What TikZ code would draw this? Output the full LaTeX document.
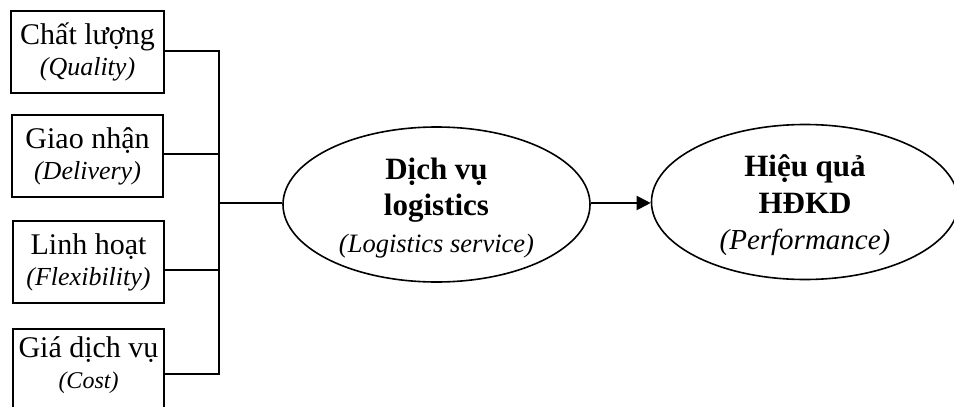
\documentclass[tikz,border=0pt]{standalone}
\usepackage{fontspec}
\setmainfont{Liberation Serif}
\usetikzlibrary{arrows.meta,shapes.geometric}
\begin{document}
\begin{tikzpicture}[x=1pt,y=-1pt,
  box/.style={draw,line width=1.6pt,rectangle,inner sep=0pt,minimum height=82pt,align=center,font=\fontsize{30}{31}\selectfont},
  oval/.style={draw,line width=1.6pt,ellipse,inner sep=0pt,minimum width=307pt,minimum height=155pt},
  ovaltext/.style={align=center,inner sep=0pt,font=\fontsize{31}{36.5}\selectfont\bfseries},
  conn/.style={line width=2pt},
]
\useasboundingbox (0,0) rectangle (954,407);
\newcommand{\subtxt}[2][26]{{\fontsize{#1}{31}\selectfont\itshape #2}}
\node[box,minimum width=153pt] (b1) at (87.5,52) {Chất lượng\\\subtxt{(Quality)}};
\node[box,minimum width=151pt] (b2) at (87.5,156) {Giao nhận\\\subtxt{(Delivery)}};
\node[box,minimum width=151pt] (b3) at (88.5,262) {Linh hoạt\\\subtxt{(Flexibility)}};
\node[box,minimum width=151pt] (b4) at (88.5,370) {};
\node[align=center,inner sep=0pt,font=\fontsize{30}{31}\selectfont] (t4) at ([yshift=5pt]b4.center) {Giá dịch vụ\\\subtxt[24]{(Cost)}};
\node[oval] (e1) at (436.5,204.5) {};
\node[ovaltext] (t1) at ([yshift=-3.5pt]e1.center) {Dịch vụ\\logistics\\{\mdseries\itshape\fontsize{26.5}{36.5}\selectfont (Logistics service)}};
\node[oval] (e2) at (805,202) {};
\node[ovaltext] (t2) at ([yshift=-3.5pt]e2.center) {Hiệu quả\\HĐKD\\{\mdseries\itshape\fontsize{29}{36.5}\selectfont (Performance)}};
\coordinate (j) at (219,203);
\draw[conn] ([yshift=1.3pt]b1.east) -| (j);
\draw[conn] ([yshift=2pt]b2.east) -| (j);
\draw[conn] ([yshift=-8pt]b3.east) -| (j);
\draw[conn] ([yshift=-4pt]b4.east) -| (j);
\draw[conn] (j) -- (j -| e1.west);
\draw[conn,-{Triangle[length=14pt,width=14pt]}] (e1.east |- j) -- (e2.west |- j);
\end{tikzpicture}
\end{document}
